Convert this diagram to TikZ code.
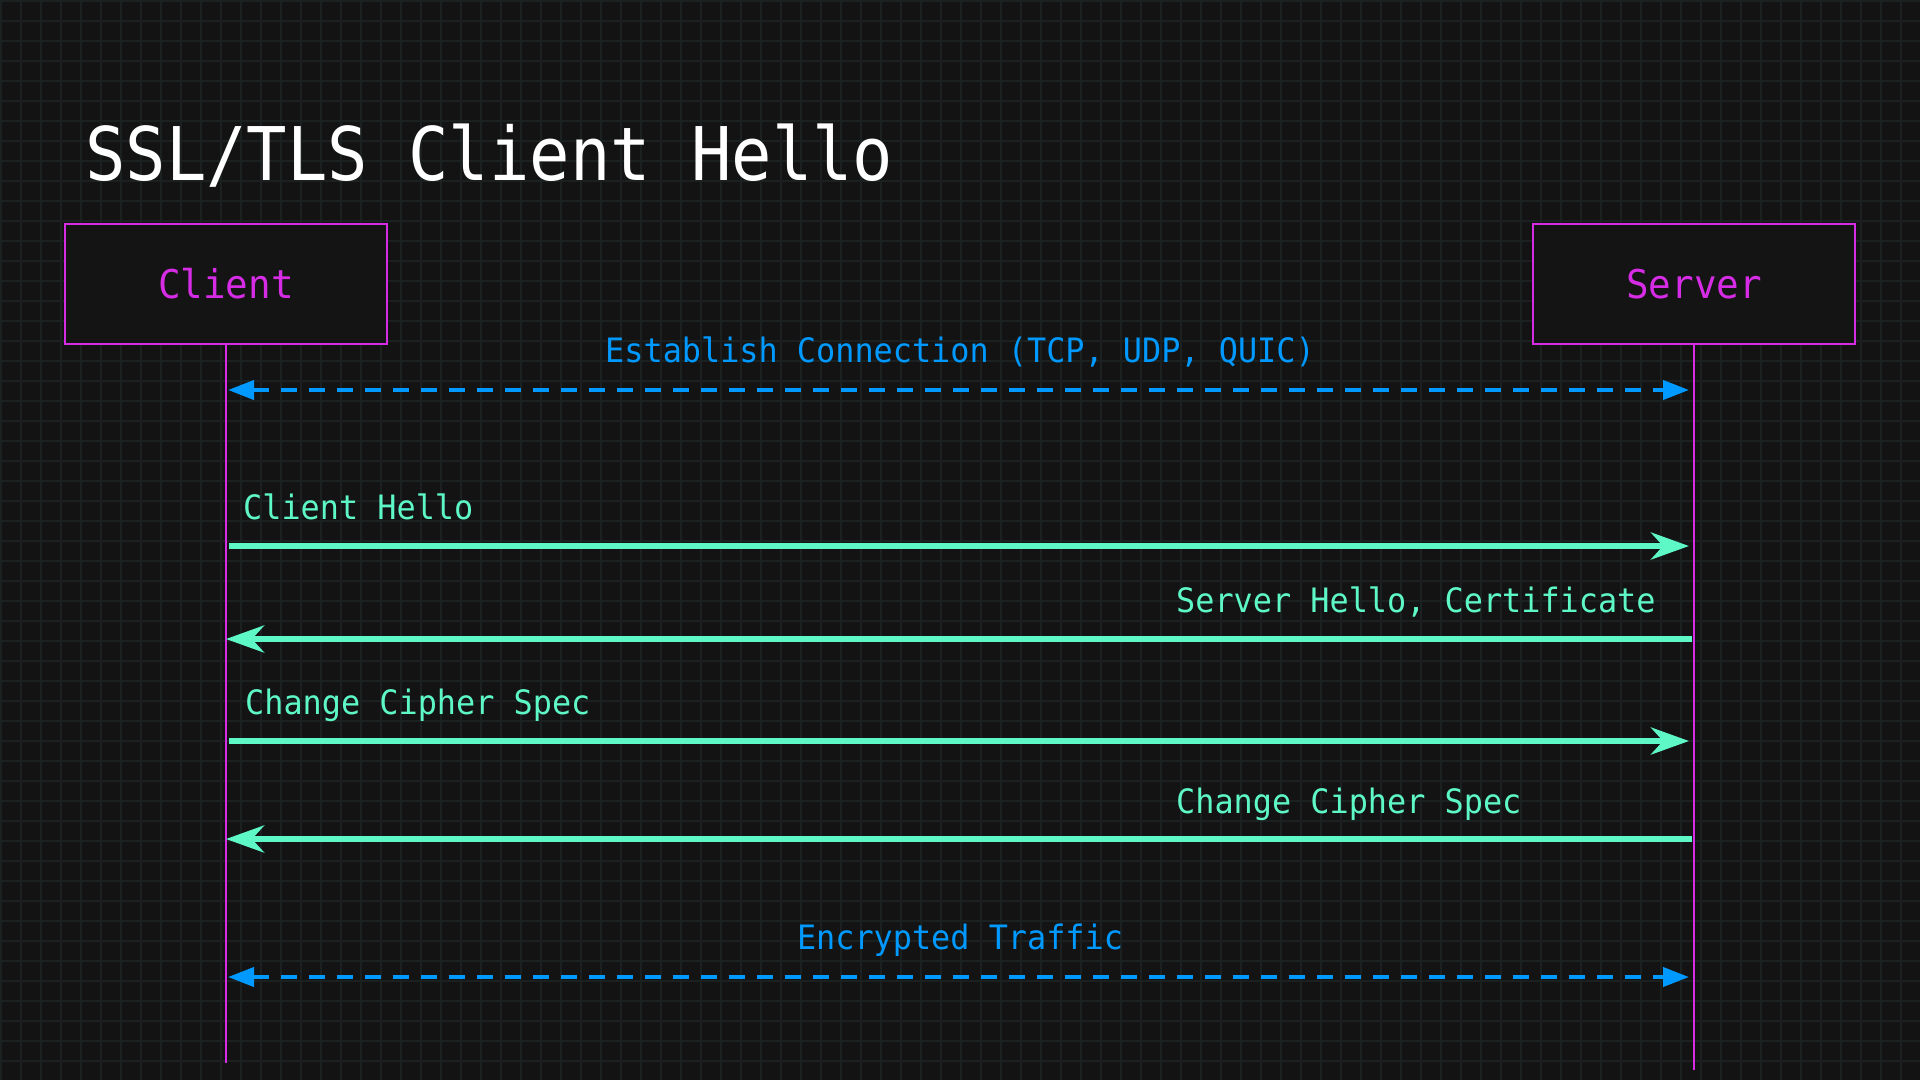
\documentclass[tikz,border=0pt]{standalone}
\usepackage{fontspec}
\usetikzlibrary{arrows.meta}
\newfontfamily\titlefont[FakeStretch=0.907]{DejaVu Sans Mono}
\newfontfamily\labelfont[FakeStretch=0.948]{DejaVu Sans Mono}
\definecolor{bgcol}{HTML}{131313}
\definecolor{gridcol}{HTML}{1A2120}
\definecolor{boxcol}{HTML}{141414}
\definecolor{lanecol}{HTML}{D62CE6}
\definecolor{linkcol}{HTML}{0099FF}
\definecolor{msgcol}{HTML}{5EF7C6}
\tikzset{
    party/.style={draw=lanecol,line width=2pt,fill=boxcol,text=lanecol,minimum width=322pt,minimum height=120pt,inner sep=0pt,font=\labelfont\fontsize{39.6pt}{44pt}\selectfont},
    lane/.style={lanecol,line width=2pt},
    msgtext/.style={inner sep=0pt,font=\labelfont\fontsize{33.6pt}{38pt}\selectfont},
    msg/.style={msgcol,line width=6pt,-{Stealth[length=38pt,width=27pt,inset=12pt]}},
    link/.style={linkcol,line width=4pt,dash pattern=on 16pt off 12pt,{Triangle[length=26pt,width=19pt]}-{Triangle[length=26pt,width=19pt]}}
}
\begin{document}
\begin{tikzpicture}[x=1pt,y=-1pt]

\useasboundingbox (0,0) rectangle (1920,1080);
\fill[bgcol] (0,0) rectangle (1920,1080);

\foreach \x in {1,21,...,1901}
{
    \draw[gridcol,line width=2pt] (\x,0) -- (\x,1080);
}
\foreach \y in {1,21,...,1061}
{
    \draw[gridcol,line width=2pt] (0,\y) -- (1920,\y);
}

\node[anchor=base west,inner sep=0pt,text=white,font=\titlefont\fontsize{74pt}{80pt}\selectfont] (title) at (85,180) {SSL/TLS Client Hello};

\node[party] (client) at (226,284) {Client};
\node[party] (server) at (1694,284) {Server};

\coordinate (clientend) at (226,1063);
\coordinate (serverend) at (1694,1070);
\draw[lane] (client.south) -- (clientend);
\draw[lane] (server.south) -- (serverend);

\foreach \n/\y in {1/390,2/546,3/639,4/741,5/839,6/977}
{
    \coordinate (c\n) at (client.south |- 0,\y);
    \coordinate (s\n) at (server.south |- 0,\y);
}

\draw[link,shorten <=2pt,shorten >=5pt] (c1) -- (s1);
\node[msgtext,text=linkcol,anchor=base] (connect) at (960,362) {Establish Connection (TCP, UDP, QUIC)};

\draw[msg,shorten <=3pt,shorten >=5pt] (c2) -- (s2);
\node[msgtext,text=msgcol,anchor=base west] (hello) at (243,519) {Client Hello};

\draw[msg,shorten <=2pt] (s3) -- (c3);
\node[msgtext,text=msgcol,anchor=base west] (cert) at (1176,612) {Server Hello, Certificate};

\draw[msg,shorten <=3pt,shorten >=5pt] (c4) -- (s4);
\node[msgtext,text=msgcol,anchor=base west] (cipherc) at (245,714) {Change Cipher Spec};

\draw[msg,shorten <=2pt] (s5) -- (c5);
\node[msgtext,text=msgcol,anchor=base west] (ciphers) at (1176,813) {Change Cipher Spec};

\draw[link,shorten <=2pt,shorten >=5pt] (c6) -- (s6);
\node[msgtext,text=linkcol,anchor=base] (traffic) at (960,949) {Encrypted Traffic};

\end{tikzpicture}
\end{document}
